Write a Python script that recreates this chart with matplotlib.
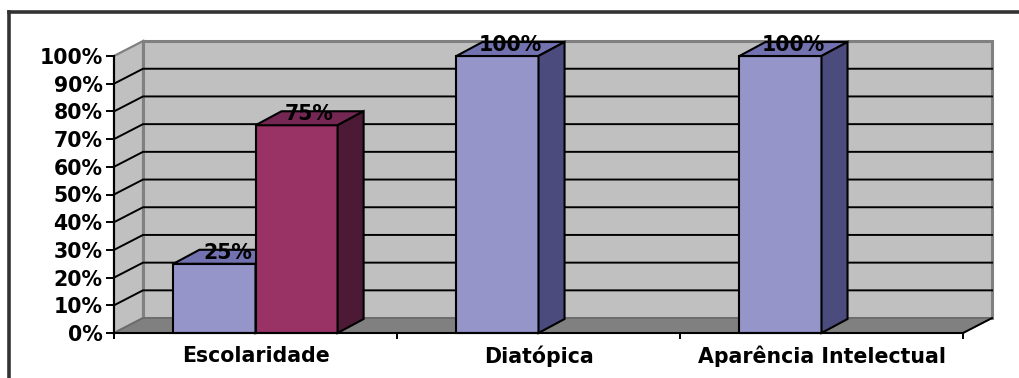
import matplotlib
matplotlib.use("Agg")
import matplotlib.pyplot as plt
from matplotlib.patches import Polygon
from matplotlib.lines import Line2D
import numpy as np

categories = ["Escolaridade", "Diatópica", "Aparência Intelectual"]
series_a = [25, 100, 100]          # first series (blue)
series_b = [75, None, None]        # second series (wine), absent where not reported
y_ticks = [0, 10, 20, 30, 40, 50, 60, 70, 80, 90, 100]
y_tick_labels = [f"{v}%" for v in y_ticks]

# pseudo-3D geometry (data units)
WALL_DX, WALL_DY = 0.1025, 5.4
BAR_DX, BAR_DY = 0.092, 5.05
BAR_W = 0.29

WALL = "#C0C0C0"
WALL_EDGE = "#808080"
FLOOR = "#808080"
SERIES_COLORS = [
    {"front": "#9595C9", "top": "#7272B0", "side": "#4B4B7D"},
    {"front": "#993366", "top": "#742752", "side": "#4C1A35"},
]

plt.rcParams["font.family"] = ["DejaVu Sans"]
plt.rcParams["font.weight"] = "bold"
FS = 14.8

fig = plt.figure(figsize=(10.19, 3.78), dpi=100)
ax = fig.add_axes([114 / 1019, 45 / 378, 849 / 1019, 277 / 378])
ax.patch.set_visible(False)
n = len(categories)
ax.set_xlim(0, n)
ax.set_ylim(0, 100)

# outer frame (runs off the right and bottom of the canvas)
fig.add_artist(Line2D([9 / 1019, 9 / 1019], [-0.05, 1 - 12 / 378],
                      transform=fig.transFigure, color="#333333", lw=2.6))
fig.add_artist(Line2D([9 / 1019, 1.05], [1 - 12 / 378, 1 - 12 / 378],
                      transform=fig.transFigure, color="#333333", lw=2.6))

# back wall
ax.add_patch(Polygon([(WALL_DX, WALL_DY), (n + WALL_DX, WALL_DY),
                      (n + WALL_DX, 100 + WALL_DY), (WALL_DX, 100 + WALL_DY)],
                     closed=True, facecolor=WALL, edgecolor=WALL_EDGE, lw=2.2,
                     clip_on=False, zorder=0.5))
# side wall
ax.add_patch(Polygon([(0, 0), (WALL_DX, WALL_DY), (WALL_DX, 100 + WALL_DY), (0, 100)],
                     closed=True, facecolor=WALL, edgecolor=WALL_EDGE, lw=1.6,
                     clip_on=False, zorder=0.5))
# floor
ax.add_patch(Polygon([(0, 0), (n, 0), (n + WALL_DX, WALL_DY), (WALL_DX, WALL_DY)],
                     closed=True, facecolor=FLOOR, edgecolor="#6a6a6a", lw=1.2,
                     clip_on=False, zorder=0.6))
ax.plot([n, n + WALL_DX], [0, WALL_DY], color="black", lw=1.4, clip_on=False, zorder=0.7)

# gridlines on the walls
for v in y_ticks[1:-1]:
    ax.plot([0, WALL_DX, n + WALL_DX], [v, v + WALL_DY, v + WALL_DY],
            color="black", lw=1.4, clip_on=False, zorder=0.8)

# bars: front face through ax.bar, top and side faces from the same values
x = np.arange(n)
offsets = [-BAR_W, 0.0]
all_series = [series_a, series_b]
z = 2
for s_idx, (vals, off) in enumerate(zip(all_series, offsets)):
    col = SERIES_COLORS[s_idx]
    for i, v in enumerate(vals):
        if v is None:
            continue
        left = x[i] + 0.5 + off
        ax.bar(left, v, width=BAR_W, align="edge", color=col["front"],
               edgecolor="black", lw=1.5, zorder=z, clip_on=False)
        ax.add_patch(Polygon([(left, v), (left + BAR_W, v),
                              (left + BAR_W + BAR_DX, v + BAR_DY), (left + BAR_DX, v + BAR_DY)],
                             closed=True, facecolor=col["top"], edgecolor="black", lw=1.5,
                             clip_on=False, zorder=z))
        ax.add_patch(Polygon([(left + BAR_W, 0), (left + BAR_W + BAR_DX, BAR_DY),
                              (left + BAR_W + BAR_DX, v + BAR_DY), (left + BAR_W, v)],
                             closed=True, facecolor=col["side"], edgecolor="black", lw=1.5,
                             clip_on=False, zorder=z))
        ax.text(left + BAR_W / 2 + BAR_DX / 2, v + BAR_DY * 0.8, f"{v}%",
                ha="center", va="center", fontsize=FS, fontweight="bold",
                color="black", zorder=z + 0.5, clip_on=False)
    z += 1

# axes
for side in ("top", "right"):
    ax.spines[side].set_visible(False)
for side in ("left", "bottom"):
    ax.spines[side].set_color("black")
    ax.spines[side].set_linewidth(1.5)
    ax.spines[side].set_zorder(5)

ax.set_yticks(y_ticks)
ax.set_yticklabels(y_tick_labels, fontsize=FS, fontweight="bold")
ax.tick_params(axis="y", direction="out", length=5.8, width=1.4, pad=2.5, colors="black")

ax.set_xticks(np.arange(n + 1))
ax.set_xticklabels([])
ax.tick_params(axis="x", which="major", direction="out", length=4, width=1.4)
ax.set_xticks(x + 0.5, minor=True)
ax.set_xticklabels(categories, minor=True, fontsize=FS, fontweight="bold")
ax.tick_params(axis="x", which="minor", length=0, pad=9)

fig.savefig("out.png", dpi=100)
